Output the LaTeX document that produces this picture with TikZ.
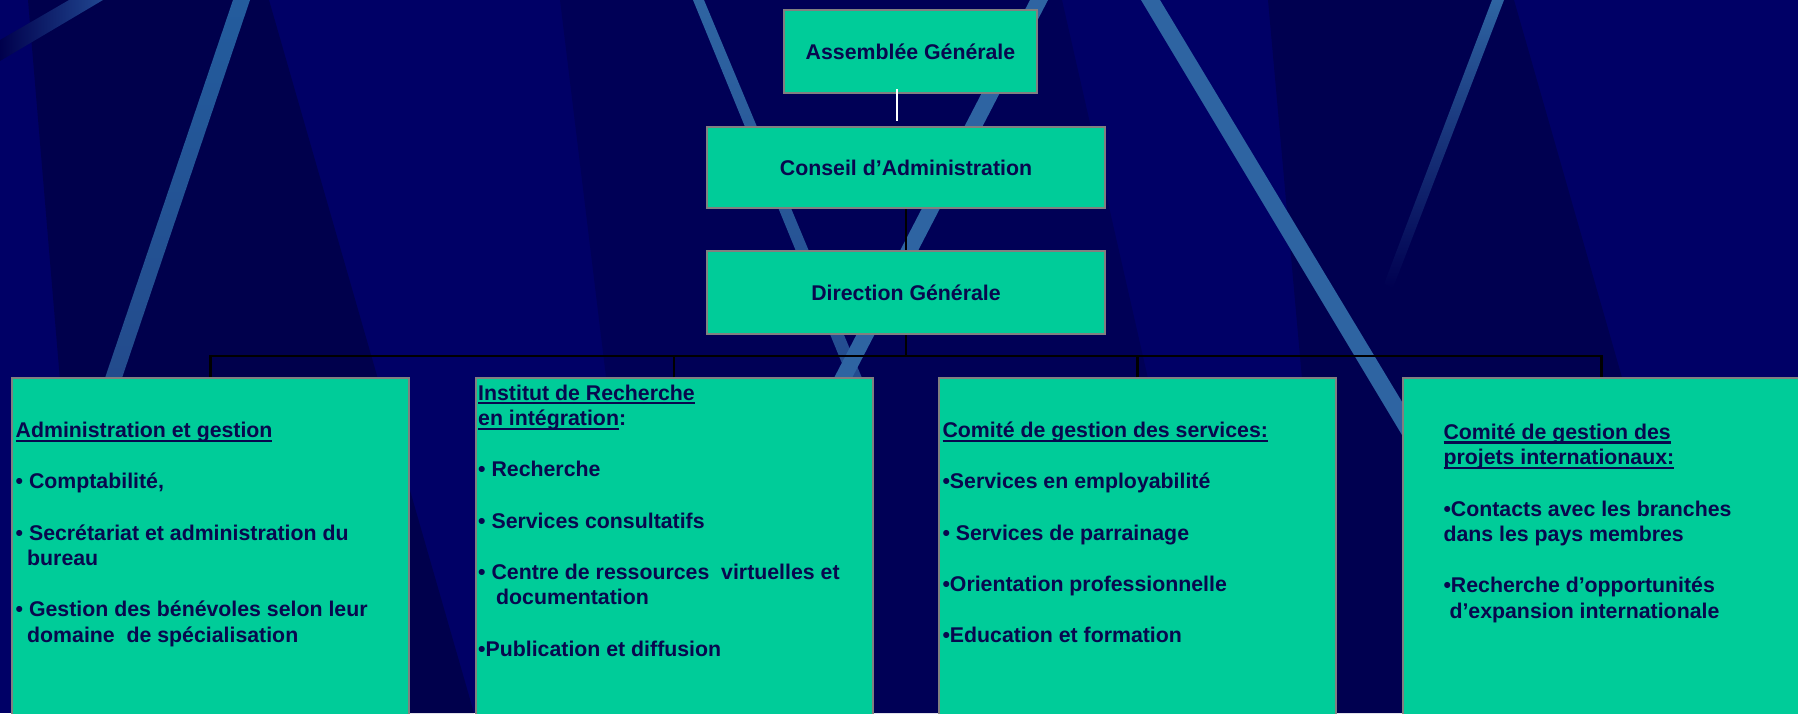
\documentclass[tikz,border=0pt]{standalone}
\usepackage{fontspec}
\setmainfont{Liberation Sans}
\definecolor{bgbase}{RGB}{0,0,102}
\definecolor{bgdarkA}{RGB}{0,0,76}
\definecolor{bgdarkB}{RGB}{0,0,86}
\definecolor{bgdarkC}{RGB}{0,0,80}
\definecolor{stripe}{RGB}{46,100,162}
\definecolor{boxfill}{RGB}{0,204,153}
\definecolor{boxline}{RGB}{128,128,128}
\definecolor{txtcol}{RGB}{8,8,78}
\newcommand\myul[1]{\leavevmode\setbox0\hbox{#1}\rlap{\rule[-4.3pt]{\wd0}{2.2pt}}\box0}
\newcommand\boxpar[1]{\parbox[t]{520pt}{\fontsize{21.3}{25.6}\selectfont\bfseries\lineskiplimit=-100pt\relax\leavevmode #1}}
\tikzset{
  topbox/.style={draw=boxline, line width=2pt, fill=boxfill, text=txtcol,
    font=\fontsize{21.3}{25.6}\selectfont\bfseries, inner sep=0pt},
  lowbox/.style={draw=boxline, line width=2pt, fill=boxfill, inner sep=0pt,
    anchor=north, minimum width=397pt, minimum height=360pt},
  boxtext/.style={anchor=base west, inner sep=0pt, text=txtcol},
  link/.style={draw=black, line width=2.2pt, line join=miter},
}
\begin{document}
\begin{tikzpicture}[x=1pt,y=-1pt]
\useasboundingbox (0,0) rectangle (1798,713);
\clip (0,0) rectangle (1798,713);
% background
\fill[bgbase] (0,0) rectangle (1798,713);
\fill[bgdarkA] (28,0) -- (269,0) -- (474,713) -- (88,713) -- cycle;
\fill[bgdarkB] (560,0) -- (1062,0) -- (1224,713) -- (647,713) -- cycle;
\fill[bgdarkC] (1268,0) -- (1514,0) -- (1718,713) -- (1332,713) -- cycle;
% stripes
\shade[left color=bgdarkA, right color=stripe!70!bgbase] (0,40) -- (69,0) -- (103,0) -- (0,61) -- cycle;
\shade[top color=stripe!105, bottom color=stripe!75!bgdarkA] (233,0) -- (250,0) -- (122,378) -- (105,378) -- cycle;
\shade[top color=stripe, bottom color=stripe!75!bgdarkB] (693,0) -- (704,0) -- (862,378) -- (848,378) -- cycle;
\fill[stripe] (1030,0) -- (1048,0) -- (852,378) -- (834,378) -- cycle;
\fill[stripe] (1141,0) -- (1160,0) -- (1425,440) -- (1405,440) -- cycle;
\shade[top color=stripe, bottom color=bgdarkC] (1492,0) -- (1504,0) -- (1393,288) -- (1384,284) -- cycle;
% top boxes
\node[topbox, minimum width=253pt, minimum height=83pt] (AG) at (910.5,51.5) {Assemblée Générale};
\node[topbox, minimum width=398pt, minimum height=81pt] (CA) at (906,167.5) {Conseil d’Administration};
\node[topbox, minimum width=398pt, minimum height=83pt] (DG) at (906,292.5) {Direction Générale};
% lower boxes
\node[lowbox] (b1) at (210.5,377) {};
\node[lowbox] (b2) at (674,377) {};
\node[lowbox] (b3) at (1137.5,377) {};
\node[lowbox] (b4) at (1601.5,377) {};
% texts
\node[boxtext] (t1) at (15.5,437.7) {\boxpar{%
\myul{Administration et gestion}\\[25.6pt]
• Comptabilité,\\[25.6pt]
• Secrétariat et administration du\\
\hspace*{11.5pt}bureau\\[25.6pt]
• Gestion des bénévoles selon leur\\
\hspace*{11.5pt}domaine\ \ de spécialisation}};
\node[boxtext] (t2) at (478,400) {\boxpar{%
\myul{Institut de Recherche}\\
\myul{en intégration}:\\[25.6pt]
• Recherche\\[25.6pt]
• Services consultatifs\\[25.6pt]
• Centre de ressources\ \ virtuelles et\\
\hspace*{18pt}documentation\\[25.6pt]
•Publication et diffusion}};
\node[boxtext] (t3) at (942.3,437.7) {\boxpar{%
\myul{Comité de gestion des services:}\\[25.6pt]
•Services en employabilité\\[25.6pt]
• Services de parrainage\\[25.6pt]
•Orientation professionnelle\\[25.6pt]
•Education et formation}};
\node[boxtext] (t4) at (1443.3,439.3) {\boxpar{%
\myul{Comité de gestion des}\\
\myul{projets internationaux:}\\[25.6pt]
•Contacts avec les branches\\
dans les pays membres\\[25.6pt]
•Recherche d’opportunités\\
\hspace*{6pt}d’expansion internationale}};
% connectors
\coordinate (bar) at (906,355.7);
\draw[white, line width=1.6pt] ([xshift=-13.5pt,yshift=5pt]AG.south) -- ([xshift=-9pt,yshift=5pt]CA.north);
\draw[link] (CA.south) -- (DG.north);
\draw[link] (DG.south) -- (DG.south |- bar);
\draw[link] (b1.north) |- (bar) -| (b4.north);
\draw[link] (b2.north) -- (b2.north |- bar);
\draw[link] (b3.north) -- (b3.north |- bar);
\end{tikzpicture}
\end{document}
